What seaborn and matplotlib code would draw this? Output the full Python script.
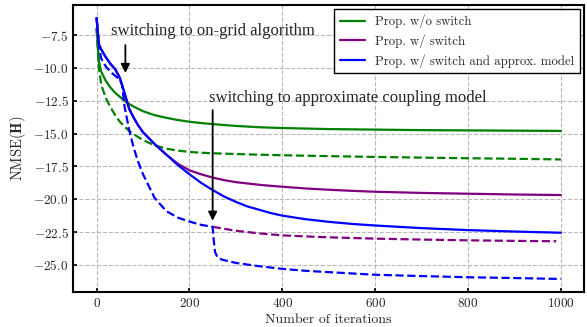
import pandas as pd
import matplotlib
matplotlib.use('Agg')
import matplotlib.pyplot as plt
import seaborn as sns

# curves (x = iteration, y = NMSE in dB)
it_green = [0, 5, 10, 20, 30, 40, 50, 60, 70, 80, 100, 125, 150, 175, 200, 225, 250, 300, 350, 400, 500, 600, 700, 800,
            900, 1000]
green_solid = [-7.0, -9.5, -10.3, -11.0, -11.5, -11.9, -12.2, -12.5, -12.75, -12.95, -13.3, -13.6, -13.8, -13.97, -14.1,
               -14.2, -14.28, -14.42, -14.52, -14.58, -14.66, -14.7, -14.74, -14.76, -14.78, -14.8]
green_dash = [-7.0, -10.0, -11.3, -12.3, -13.0, -13.6, -14.1, -14.45, -14.8, -15.05, -15.5, -15.9, -16.15, -16.3, -16.4,
              -16.46, -16.5, -16.56, -16.61, -16.65, -16.72, -16.78, -16.83, -16.88, -16.92, -16.97]

it_solid = [0, 5, 10, 20, 30, 40, 50, 60, 70, 80, 90, 100, 125, 150, 175, 200, 225, 250, 275, 300, 325, 350, 375, 400,
            450, 500, 550, 600, 700, 800, 900, 1000]
blue_solid = [-6.2, -8.2, -8.6, -9.2, -9.7, -10.1, -10.75, -11.9, -13.1, -13.8, -14.4, -14.9, -15.8, -16.6, -17.4, -18.1,
              -18.75, -19.3, -19.8, -20.2, -20.55, -20.8, -21.05, -21.25, -21.52, -21.72, -21.88, -22.0, -22.2, -22.35,
              -22.46, -22.55]
purple_solid = [-6.2, -8.2, -8.6, -9.2, -9.7, -10.1, -10.75, -11.9, -13.1, -13.8, -14.4, -14.9, -15.8, -16.6, -17.3, -17.8,
                -18.1, -18.35, -18.55, -18.7, -18.8, -18.9, -18.98, -19.05, -19.18, -19.28, -19.36, -19.43, -19.52,
                -19.58, -19.64, -19.68]

it_dash = [0, 5, 10, 20, 30, 40, 50, 55, 60, 70, 80, 90, 100, 125, 150, 175, 200, 225, 250]
dash_common = [-6.2, -8.3, -9.3, -9.9, -10.3, -10.6, -10.9, -11.3, -12.9, -14.7, -16.1, -17.2, -18.1, -19.9, -20.9, -21.4,
               -21.7, -21.95, -22.1]
it_purple_tail = [275, 300, 350, 400, 450, 500, 600, 700, 800, 900, 990]
purple_tail = [-22.25, -22.4, -22.6, -22.75, -22.83, -22.9, -23.0, -23.07, -23.13, -23.17, -23.2]
it_blue_tail = [252, 255, 260, 270, 300, 350, 400, 450, 500, 600, 700, 800, 900, 1000]
blue_tail = [-23.0, -24.0, -24.4, -24.6, -24.85, -25.1, -25.3, -25.45, -25.55, -25.75, -25.85, -25.94, -26.0, -26.07]

labels = ['Prop. w/o switch', 'Prop. w/ switch', 'Prop. w/ switch and approx. model']
colors = ['green', 'purple', 'blue']

sns.set_style('whitegrid', {'grid.linestyle': '--', 'grid.color': '#b8b8b8',
                            'axes.edgecolor': 'black', 'xtick.bottom': True, 'ytick.left': True})
plt.rcParams['font.family'] = 'serif'
plt.rcParams['font.serif'] = ['cmr10', 'DejaVu Serif']
plt.rcParams['mathtext.fontset'] = 'cm'
plt.rcParams['axes.formatter.use_mathtext'] = True
plt.rcParams['axes.unicode_minus'] = True

fig, ax = plt.subplots(figsize=(5.87, 3.27), dpi=100)

lw = 1.6
sns.lineplot(x=it_green, y=green_solid, color=colors[0], lw=lw, label=labels[0], ax=ax)
sns.lineplot(x=it_solid, y=purple_solid, color=colors[1], lw=lw, label=labels[1], ax=ax)
sns.lineplot(x=it_green, y=green_dash, color=colors[0], lw=lw, ls='--', ax=ax)
sns.lineplot(x=[250] + it_purple_tail, y=[dash_common[-1]] + purple_tail, color=colors[1], lw=lw, ls='--', ax=ax)
sns.lineplot(x=it_solid, y=blue_solid, color=colors[2], lw=lw, label=labels[2], ax=ax)
sns.lineplot(x=it_dash + it_blue_tail, y=dash_common + blue_tail, color=colors[2], lw=lw, ls='--', ax=ax)

ax.text(32, -7.2, 'switching to on-grid algorithm', fontsize=12, va='center', ha='left',
        family='Liberation Serif')
ax.annotate('', xy=(62, -10.6), xytext=(62, -8.05),
            arrowprops=dict(arrowstyle='-|>', color='black', lw=1.3, mutation_scale=13))
ax.text(243, -12.33, 'switching to approximate coupling model', fontsize=12, va='center', ha='left',
        family='Liberation Serif')
ax.annotate('', xy=(250, -21.85), xytext=(250, -13.0),
            arrowprops=dict(arrowstyle='-|>', color='black', lw=1.3, mutation_scale=13))

ax.set_xlabel('Number of iterations', fontsize=10, labelpad=3)
ax.set_ylabel(r'NMSE($\mathbf{H}$)', fontsize=10.5)
ax.set_xticks([0, 200, 400, 600, 800, 1000])
ax.set_yticks([-7.5, -10, -12.5, -15, -17.5, -20, -22.5, -25])
ax.tick_params(axis='both', direction='in', length=3, width=1.2, color='black', labelsize=9.5)
for s in ax.spines.values():
    s.set_linewidth(1.5)
    s.set_color('black')

leg = ax.legend(loc='upper right', fontsize=9.2, frameon=True, fancybox=False, framealpha=1,
                borderaxespad=0.35)
leg.get_frame().set_edgecolor('black')
leg.get_frame().set_linewidth(1.0)

fig.subplots_adjust(left=0.125, right=0.995, top=0.985, bottom=0.107)
fig.savefig('out.png', dpi=100)
